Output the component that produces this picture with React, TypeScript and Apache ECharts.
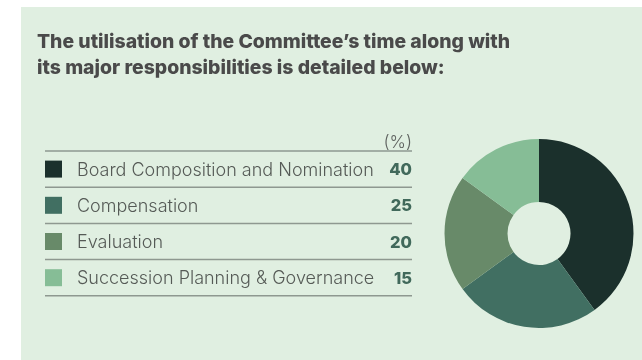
import React, { useEffect, useRef } from "react";
import * as echarts from "echarts";

const categories = [
  "Board Composition and Nomination",
  "Compensation",
  "Evaluation",
  "Succession Planning & Governance",
];
const values = [40, 25, 20, 15];
const colors = ["#1b302c", "#416f62", "#688a69", "#86bd96"];
const titleLines = [
  "The utilisation of the Committee\u2019s time along with",
  "its major responsibilities is detailed below:",
];
const unitLabel = "(%)";

export default function App() {
  const ref = useRef<HTMLDivElement>(null);
  useEffect(() => {
    const chart = echarts.init(ref.current!, null, { renderer: "svg" });
    const font = "Inter, 'Noto Sans', sans-serif";
    const rowTop = 151;
    const rowH = 36.2;
    const left = 45;
    const right = 412;
    const graphics: any[] = [
      {
        type: "rect",
        shape: { x: 21, y: 7, width: 642 - 21, height: 360 - 7 },
        style: { fill: "#e0efe1" },
        z: -10,
      },
      ...titleLines.map((t, i) => ({
        type: "text",
        x: 37,
        y: 41 + i * 26,
        style: {
          text: t,
          font: `800 19.4px ${font}`,
          fill: "#4a4a4a",
          textVerticalAlign: "middle",
        },
      })),
      {
        type: "text",
        x: right,
        y: 141,
        style: {
          text: unitLabel,
          font: `300 17.5px ${font}`,
          fill: "#5f6360",
          textAlign: "right",
          textVerticalAlign: "middle",
        },
      },
    ];
    for (let i = 0; i <= categories.length; i++) {
      graphics.push({
        type: "line",
        shape: { x1: left, y1: rowTop + i * rowH, x2: right, y2: rowTop + i * rowH },
        style: { stroke: "#8e9890", lineWidth: 1.5 },
      });
    }
    categories.forEach((c, i) => {
      const cy = rowTop + i * rowH + rowH / 2;
      graphics.push(
        {
          type: "rect",
          shape: { x: left, y: cy - 8.5, width: 17, height: 17 },
          style: { fill: colors[i] },
        },
        {
          type: "text",
          x: 77,
          y: cy,
          style: {
            text: c,
            font: `300 18px ${font}`,
            fill: "#555a56",
            textVerticalAlign: "middle",
          },
        },
        {
          type: "text",
          x: right,
          y: cy,
          style: {
            text: String(values[i]),
            font: `800 16.5px ${font}`,
            fill: "#41695b",
            textAlign: "right",
            textVerticalAlign: "middle",
          },
        }
      );
    });
    chart.setOption({
      animation: false,
      graphic: graphics,
      series: [
        {
          type: "pie",
          center: [539, 233.5],
          radius: [31.5, 94.5],
          startAngle: 90,
          clockwise: true,
          label: { show: false },
          labelLine: { show: false },
          itemStyle: { borderWidth: 0 },
          data: categories.map((c, i) => ({
            name: c,
            value: values[i],
            itemStyle: { color: colors[i] },
          })),
        },
      ],
    });
    return () => chart.dispose();
  }, []);
  return (
    <div
      ref={ref}
      style={{ position: "fixed", left: 0, top: 0, width: 642, height: 360 }}
    />
  );
}
